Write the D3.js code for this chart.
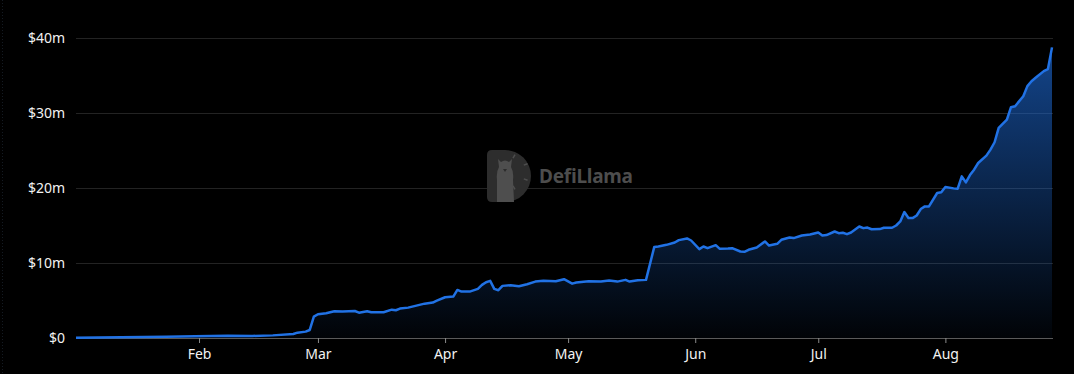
<!DOCTYPE html>
<html>
<head>
<meta charset="utf-8">
<script src="https://cdn.jsdelivr.net/npm/d3@7"></script>
<style>
  html, body { margin: 0; padding: 0; background: #000; }
  svg { display: block; }
  .axis text { font-family: "Noto Sans", sans-serif; font-size: 14px; fill: #f2f2f2; }
</style>
</head>
<body>
<svg id="chart" width="1074" height="374"></svg>
<script>
// TVL, in $m
const dates = ["2024-01-02","2024-01-13","2024-01-24","2024-01-31","2024-02-08","2024-02-14","2024-02-19",
  "2024-02-24","2024-02-25","2024-02-27","2024-02-28","2024-02-29","2024-03-01","2024-03-03","2024-03-05",
  "2024-03-07","2024-03-10","2024-03-11","2024-03-13","2024-03-14","2024-03-17","2024-03-19","2024-03-20",
  "2024-03-21","2024-03-23","2024-03-25","2024-03-27","2024-03-29","2024-03-30","2024-04-01","2024-04-03",
  "2024-04-04","2024-04-05","2024-04-07","2024-04-09","2024-04-10","2024-04-11","2024-04-12","2024-04-13",
  "2024-04-14","2024-04-15","2024-04-17","2024-04-19","2024-04-21","2024-04-23","2024-04-25","2024-04-28",
  "2024-04-30","2024-05-02","2024-05-03","2024-05-06","2024-05-09","2024-05-11","2024-05-13","2024-05-15",
  "2024-05-16","2024-05-18","2024-05-20","2024-05-22","2024-05-23","2024-05-25","2024-05-27","2024-05-28",
  "2024-05-30","2024-05-31","2024-06-02","2024-06-03","2024-06-04","2024-06-06","2024-06-07","2024-06-09",
  "2024-06-10","2024-06-12","2024-06-13","2024-06-14","2024-06-16","2024-06-18","2024-06-19","2024-06-21",
  "2024-06-22","2024-06-24","2024-06-25","2024-06-27","2024-06-29","2024-07-01","2024-07-02","2024-07-03",
  "2024-07-05","2024-07-06","2024-07-07","2024-07-08","2024-07-09","2024-07-11","2024-07-12","2024-07-13",
  "2024-07-14","2024-07-16","2024-07-17","2024-07-19","2024-07-20","2024-07-21","2024-07-22","2024-07-23",
  "2024-07-24","2024-07-25","2024-07-26","2024-07-27","2024-07-28","2024-07-30","2024-07-31","2024-08-01",
  "2024-08-03","2024-08-04","2024-08-05","2024-08-06","2024-08-07","2024-08-08","2024-08-09","2024-08-11",
  "2024-08-12","2024-08-13","2024-08-14","2024-08-16","2024-08-17","2024-08-18","2024-08-20","2024-08-21",
  "2024-08-22","2024-08-23","2024-08-25","2024-08-26","2024-08-27"];
const tvl = [0.04,0.10,0.17,0.22,0.31,0.27,0.35,
  0.53,0.71,0.85,1.07,2.85,3.17,3.30,3.57,
  3.52,3.60,3.38,3.57,3.43,3.43,3.78,3.70,
  3.92,4.05,4.32,4.58,4.72,4.98,5.43,5.52,
  6.41,6.19,6.19,6.55,7.08,7.44,7.62,6.55,
  6.37,6.95,7.04,6.90,7.17,7.52,7.62,7.57,
  7.84,7.25,7.39,7.57,7.52,7.66,7.52,7.75,
  7.52,7.71,7.75,12.12,12.20,12.42,12.73,13.05,
  13.27,13.00,11.85,12.20,11.98,12.38,11.89,11.93,
  11.98,11.53,11.49,11.76,12.07,12.87,12.33,12.56,
  13.09,13.40,13.32,13.67,13.80,14.07,13.67,13.72,
  14.20,13.98,14.03,13.85,14.07,14.87,14.65,14.72,
  14.50,14.52,14.70,14.70,15.00,15.54,16.79,15.99,
  15.99,16.34,17.19,17.55,17.55,19.33,19.42,20.13,
  19.95,19.91,21.55,20.75,21.73,22.44,23.33,24.31,
  25.12,26.10,28.02,29.13,30.77,30.91,32.24,33.58,
  34.24,34.70,35.58,35.85,38.75];

const yTicks = [0, 10, 20, 30, 40];
const yLabels = ["$0", "$10m", "$20m", "$30m", "$40m"];
const xTicks = ["2024-02-01","2024-03-01","2024-04-01","2024-05-01","2024-06-01","2024-07-01","2024-08-01"];

const parse = d3.timeParse("%Y-%m-%d");
const data = dates.map((d, i) => ({ date: parse(d), value: tvl[i] }));

const svg = d3.select("#chart");
const plotLeft = 76, plotRight = 1053, plotTop = 38, plotBottom = 338;

const x = d3.scaleTime()
    .domain(d3.extent(data, d => d.date))
    .range([plotLeft, plotRight - 1]);
const y = d3.scaleLinear()
    .domain([0, 40])
    .range([plotBottom, plotTop]);

// faint page border on the left
svg.append("line")
    .attr("x1", 2.5).attr("x2", 2.5).attr("y1", 0).attr("y2", 374)
    .style("stroke", "#141a22").style("stroke-dasharray", "1,2");

// grid
svg.append("g")
    .selectAll("line")
    .data(yTicks.filter(d => d > 0))
    .join("line")
    .attr("x1", plotLeft).attr("x2", plotRight)
    .attr("y1", d => Math.round(y(d)) + 0.5)
    .attr("y2", d => Math.round(y(d)) + 0.5)
    .style("stroke", "#232323");

// y labels
svg.append("g")
    .attr("class", "axis")
    .selectAll("text")
    .data(yTicks)
    .join("text")
    .attr("x", 65)
    .attr("y", d => y(d))
    .attr("dy", "0.36em")
    .attr("text-anchor", "end")
    .text((d, i) => yLabels[i]);

// watermark
const wm = svg.append("g").attr("transform", "translate(487,150)");
wm.append("path")
    .attr("d", "M5,0 H18 A26,26 0 0 1 18,52 H5 Q0,52 0,47 V5 Q0,0 5,0 Z")
    .style("fill", "#2d2d2d");
wm.append("path")
    .attr("d", "M10,52 V30 Q9,22 12,17 L11,9 L14,12 Q18,9 22,12 L25,9 L24,17 Q27,22 26,30 L27,52 Z")
    .style("fill", "#4e4e4e");
wm.append("path")
    .attr("d", "M16,19 L20,19 L18,22 Z")
    .style("fill", "#2d2d2d");
[[-60, 16], [-20, 20], [20, 20], [60, 16]].forEach(function (a) {
    const r = a[0] * Math.PI / 180;
    wm.append("line")
        .attr("x1", 18 + Math.cos(r) * a[1]).attr("y1", 22 + Math.sin(r) * a[1])
        .attr("x2", 18 + Math.cos(r) * (a[1] + 4)).attr("y2", 22 + Math.sin(r) * (a[1] + 4))
        .style("stroke", "#4e4e4e").style("stroke-width", 1.5);
});
svg.append("text")
    .attr("x", 539).attr("y", 183)
    .attr("textLength", 94)
    .style("font-family", "'Noto Sans', sans-serif")
    .style("font-weight", "bold")
    .style("font-size", "19px")
    .style("fill", "#4d4d4d")
    .text("DefiLlama");

// area gradient
const grad = svg.append("defs").append("linearGradient")
    .attr("id", "fillGrad")
    .attr("gradientUnits", "userSpaceOnUse")
    .attr("x1", 0).attr("x2", 0)
    .attr("y1", y(d3.max(tvl))).attr("y2", plotBottom);
grad.append("stop").attr("offset", "0%").attr("stop-color", "#1f6fe0").attr("stop-opacity", 0.62);
grad.append("stop").attr("offset", "100%").attr("stop-color", "#1f6fe0").attr("stop-opacity", 0.03);

svg.append("path")
    .datum(data)
    .attr("d", d3.area().x(d => x(d.date)).y0(plotBottom).y1(d => y(d.value)))
    .style("fill", "url(#fillGrad)");

// x axis
const xAxis = svg.append("g")
    .attr("class", "axis")
    .attr("transform", `translate(0,${plotBottom})`)
    .call(d3.axisBottom(x)
        .tickValues(xTicks.map(parse))
        .tickFormat(d3.timeFormat("%b"))
        .tickSize(5)
        .tickPadding(6)
        .tickSizeOuter(0));
xAxis.select(".domain").attr("d", `M${plotLeft},0.5H${plotRight}`).style("stroke", "#5a5a5a");
xAxis.selectAll(".tick line").style("stroke", "#8a8a8a");
xAxis.selectAll(".tick text").style("font-family", "'Noto Sans', sans-serif").style("font-size", "14px").attr("fill", "#f2f2f2");

// line
svg.append("path")
    .datum(data)
    .attr("d", d3.line().x(d => x(d.date)).y(d => y(d.value)))
    .style("fill", "none")
    .style("stroke", "#2172e5")
    .style("stroke-width", 2.5)
    .style("stroke-linejoin", "round");
</script>
</body>
</html>
